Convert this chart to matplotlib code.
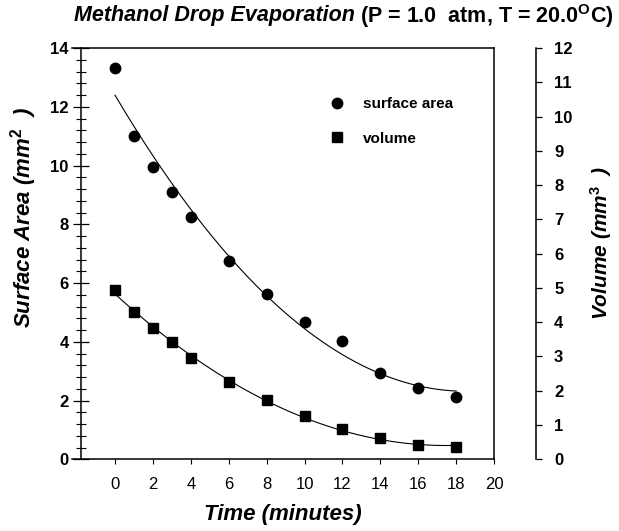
import numpy as np
import matplotlib
matplotlib.use("Agg")
import matplotlib.pyplot as plt
from matplotlib.ticker import MultipleLocator

plt.rcParams["font.family"] = ["Liberation Sans", "DejaVu Sans"]
plt.rcParams["mathtext.fontset"] = "custom"
plt.rcParams["mathtext.rm"] = "Liberation Sans:bold"
plt.rcParams["mathtext.bf"] = "Liberation Sans:bold"
plt.rcParams["mathtext.it"] = "Liberation Sans:bold:italic"

# data
time_min = [0, 1, 2, 3, 4, 6, 8, 10, 12, 14, 16, 18]
surface_area = [13.32, 10.99, 9.94, 9.11, 8.24, 6.76, 5.63, 4.69, 4.04, 2.93, 2.44, 2.11]
volume = [4.95, 4.31, 3.82, 3.41, 2.95, 2.25, 1.73, 1.26, 0.88, 0.63, 0.43, 0.35]
x_ticks = list(range(0, 21, 2))
sa_ticks = list(range(0, 15, 2))
vol_ticks = list(range(0, 13))

fig = plt.figure(figsize=(6.19, 5.31), dpi=100)
ax = fig.add_axes([0.1163, 0.135, 0.6818, 0.7746])
ax2 = ax.twinx()

# quadratic fits, as drawn in the original
tf = np.linspace(min(time_min), max(time_min), 200)
sa_fit = np.polyval(np.polyfit(time_min, surface_area, 2), tf)
vol_fit = np.polyval(np.polyfit(time_min, volume, 2), tf)

ax.plot(tf, sa_fit, color="black", lw=0.8)
h1, = ax.plot(time_min, surface_area, "o", color="black", ms=7.5, ls="none", label="surface area")
ax2.plot(tf, vol_fit, color="black", lw=0.8)
h2, = ax2.plot(time_min, volume, "s", color="black", ms=7, ls="none", label="volume")

ax.set_xlim(-2.27, 20)
ax.set_ylim(0, 14)
ax2.set_ylim(0, 12)

for s in ax.spines.values():
    s.set_linewidth(1.1)
ax.spines["left"].set_position(("data", -1.8))

ax.set_xticks(x_ticks)
ax.set_yticks(sa_ticks)
ax.yaxis.set_minor_locator(MultipleLocator(0.4))
ax.tick_params(axis="x", direction="out", length=3.6, width=0.8, pad=9, labelsize=12)
ax.tick_params(axis="y", which="major", direction="inout", length=11.5, width=0.9, pad=3, labelsize=12)
ax.tick_params(axis="y", which="minor", direction="inout", length=6.5, width=0.8)
for lab in ax.get_yticklabels():
    lab.set_fontweight("bold")

ax2.spines["right"].set_position(("axes", 1.0995))
for k in ("top", "left", "bottom"):
    ax2.spines[k].set_visible(False)
ax2.spines["right"].set_linewidth(1.1)
ax2.set_yticks(vol_ticks)
ax2.tick_params(axis="y", direction="out", length=4, width=0.9, pad=9, labelsize=12)
for lab in ax2.get_yticklabels():
    lab.set_fontweight("bold")

ax.set_xlabel("Time (minutes)", fontsize=16, fontweight="bold", fontstyle="italic")
ax.xaxis.set_label_coords(0.5, -0.108)
ax.set_ylabel("Surface Area (mm$^{2}$  )", fontsize=16, fontweight="bold", fontstyle="italic")
ax.yaxis.set_label_coords(-0.078, 0.587)
ax2.set_ylabel("Volume (mm$^{3}$  )", fontsize=15, fontweight="bold", fontstyle="italic")
ax2.yaxis.set_label_coords(1.223, 0.526)

fig.text(355 / 619, 1 - 16 / 531, "Methanol Drop Evaporation", ha="right", va="center",
         fontsize=15.5, fontweight="bold", fontstyle="italic")
fig.text(360 / 619, 1 - 16 / 531, r"(P = 1.0  atm, T = 20.0$^{\rm O}$C)", ha="left", va="center",
         fontsize=15.5, fontweight="bold")

ax.legend(handles=[h1, h2], loc="upper left", bbox_to_anchor=(0.609, 0.881), frameon=False,
          borderpad=0, borderaxespad=0, handlelength=1.0, handletextpad=1.2, labelspacing=1.35,
          prop={"size": 11, "weight": "bold"})

fig.savefig("out.png", dpi=100)
